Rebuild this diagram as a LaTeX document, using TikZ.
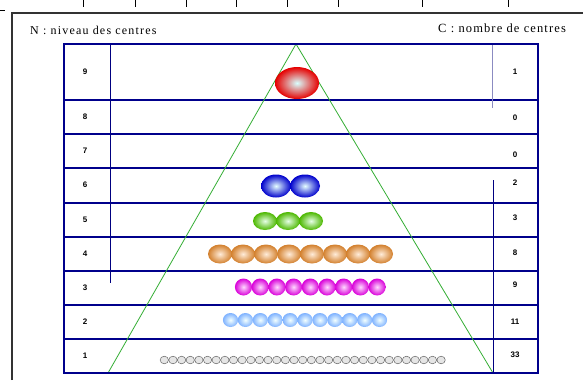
\documentclass[tikz,border=0pt]{standalone}
\usepackage{fontspec}
\setmainfont{Liberation Serif}
\newfontfamily\labfont{Liberation Sans}
\begin{document}
\begin{tikzpicture}[x=1pt,y=-1pt,
  frame/.style={draw=black!80,line width=1.6pt},
  tick/.style={draw=black,line width=0.8pt},
  rowline/.style={draw=blue!55!black,line width=1.5pt},
  thinline/.style={draw=blue!50!black,line width=0.7pt},
  lightline/.style={draw=blue!30!gray!70,line width=0.7pt},
  tri/.style={draw=green!60!black!80,line width=0.8pt},
  lab/.style={font=\labfont\fontsize{8}{9}\selectfont\bfseries,inner sep=0pt},
  head/.style={inner sep=0pt,anchor=base west}
]
\useasboundingbox (0,0) rectangle (583,380);
% outer frame
\coordinate (fa) at (12,380);
\coordinate (fb) at (12,13);
\coordinate (fc) at (583,13);
\draw[frame] (fa) -- (fb) -- (fc);
\coordinate (hl1) at (0,10); \coordinate (hl2) at (5,10);
\draw[tick] (hl1) -- (hl2);
\foreach \x in {83,135,186,236,287,338,422,508}{
  \draw[tick] (\x,0) -- (\x,7);
}
% headers
\node[head,font=\fontsize{12}{13}\selectfont\addfontfeature{LetterSpace=10}] (hN) at (30,34) {N : niveau des centres};
\node[head,font=\fontsize{12.5}{14}\selectfont\addfontfeature{LetterSpace=9}] (hC) at (438,32) {C : nombre de centres};
% table
\coordinate (tl) at (64,44);
\coordinate (br) at (538,373);
\foreach \y in {100,134,168,203,237,271,305,339}{
  \draw[rowline] (64,\y) -- (538,\y);
}
\coordinate (ld1) at (110,44); \coordinate (ld2) at (110,283);
\draw[thinline] (ld1) -- (ld2);
\coordinate (rd1) at (492,44); \coordinate (rd2) at (492,108);
\draw[lightline] (rd1) -- (rd2);
\coordinate (rd3) at (493,180); \coordinate (rd4) at (493,373);
\draw[thinline] (rd3) -- (rd4);
% triangle
\coordinate (apex) at (296,44);
\coordinate (bl) at (108,373);
\coordinate (bri) at (493,373);
\draw[tri] (bl) -- (apex) -- (bri);
\draw[rowline] (tl) rectangle (br);
% left labels
\foreach \n/\y in {9/72,8/117,7/151,6/185,5/220,4/254,3/288,2/322,1/356}{
  \node[lab] (L\n) at (85,\y) {\n};
}
% right labels
\foreach \n/\t/\y in {9/1/72,8/0/118,7/0/155,6/2/183,5/3/218,4/8/253,3/9/285,2/11/322,1/33/355}{
  \node[lab] (R\n) at (515,\y) {\t};
}
% beads
\shade[inner color=cyan!15!white,outer color=red!90!black] (297,83) ellipse [x radius=22,y radius=16];
\foreach \cx in {276,305}{
  \shade[inner color=cyan!10!white,outer color=blue!80!black] (\cx,186) ellipse [x radius=15,y radius=11.5];
}
\foreach \cx in {265,288,311}{
  \shade[inner color=green!10!white,outer color=green!60!black!70!yellow] (\cx,221) ellipse [x radius=12,y radius=9];
}
\foreach \k in {0,...,7}{
  \shade[inner color=orange!15!white,outer color=brown!70!orange] (220+23*\k,254) ellipse [x radius=12,y radius=9.5];
}
\foreach \k in {0,...,8}{
  \shade[inner color=magenta!15!white,outer color=magenta!85!black] (243.5+16.7*\k,287) ellipse [x radius=8.6,y radius=8.5];
}
\foreach \k in {0,...,10}{
  \shade[inner color=cyan!5!white,outer color=cyan!40!blue!50!white] (230.5+14.9*\k,320) ellipse [x radius=7.6,y radius=7];
}
\foreach \k in {0,...,32}{
  \draw[gray!80!black,line width=0.5pt,fill=gray!20] (164.3+8.65*\k,360) ellipse [x radius=4.2,y radius=3.8];
}
\end{tikzpicture}
\end{document}
